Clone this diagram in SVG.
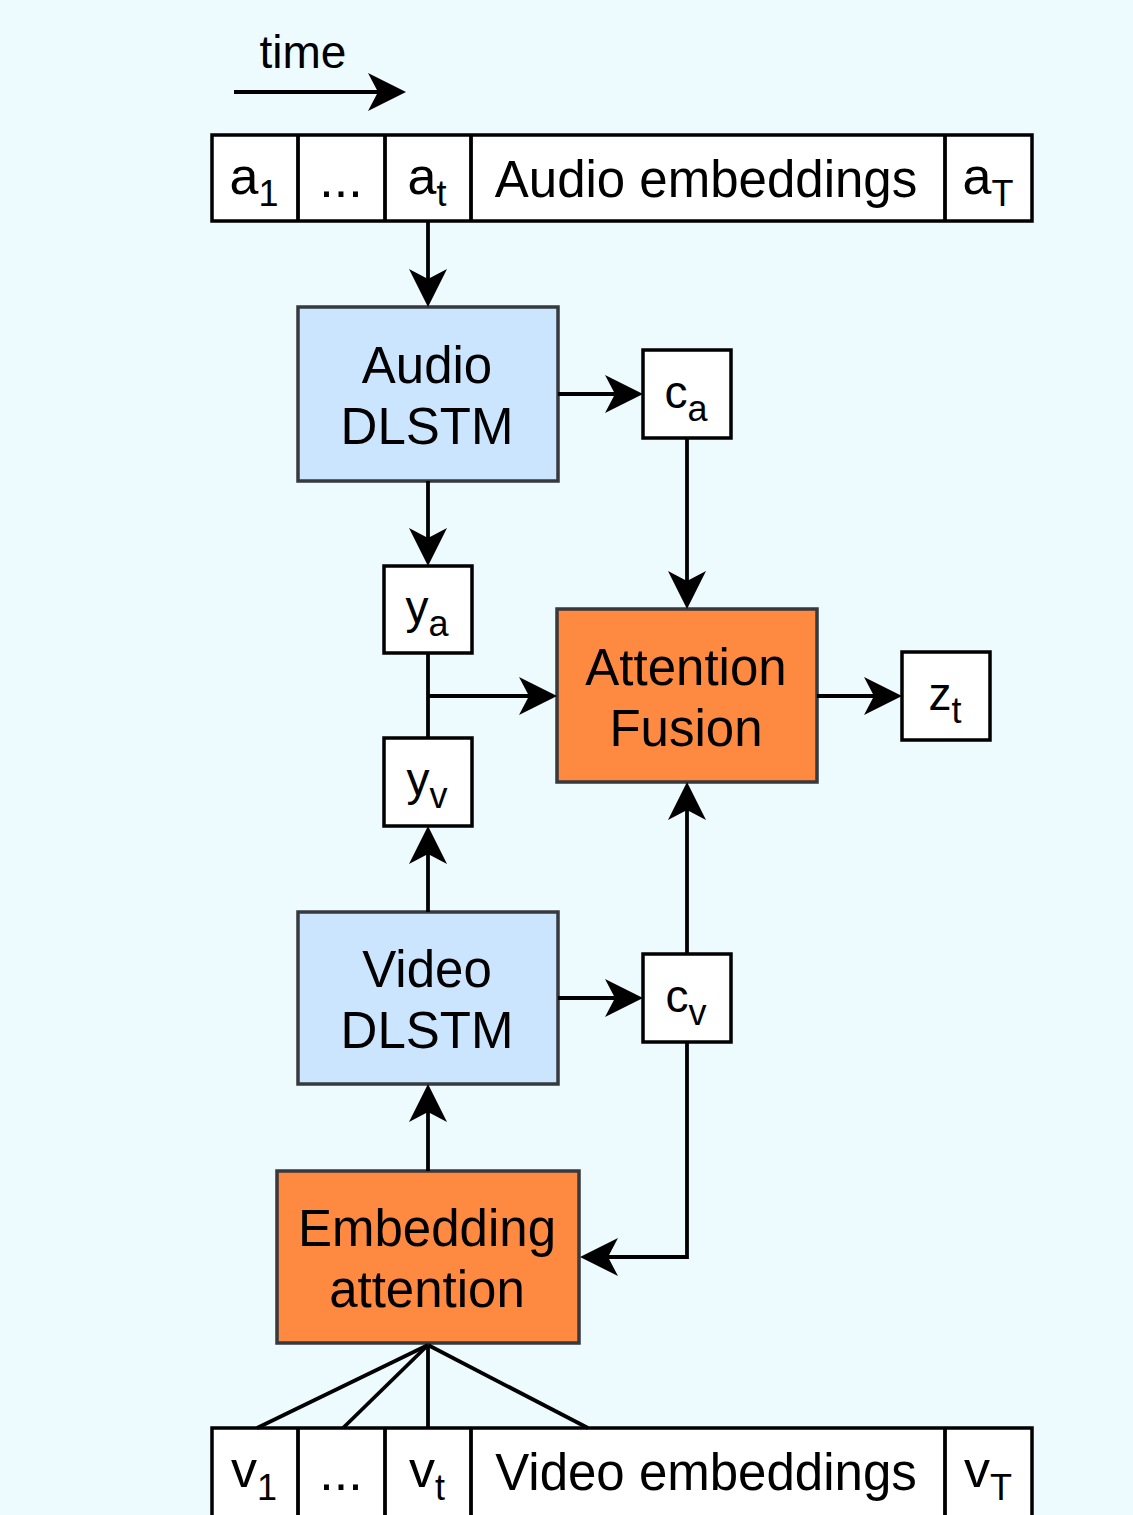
<svg xmlns="http://www.w3.org/2000/svg" width="1133" height="1515" viewBox="0 0 1133 1515">
  <style>
    text { font-family: "Liberation Sans", Arial, sans-serif; fill: #000; text-anchor: middle; }
    .cell { fill: #ffffff; stroke: #000; stroke-width: 3.5; }
    .lstm { fill: #cce5ff; stroke: #36393d; stroke-width: 3.5; }
    .att { fill: #fe8940; stroke: #36393d; stroke-width: 3.5; }
    .big { font-size: 51px; }
    .var { font-size: 46px; }
    .rowvar { font-size: 52px; }
    .sub { font-size: 36px; }
    .wire { fill: none; stroke: #000; stroke-width: 3.8; }
  </style>
  <defs>
    <!-- classic notched arrowhead; the line ends at the notch -->
    <marker id="arrow" markerUnits="userSpaceOnUse" markerWidth="40" markerHeight="40" viewBox="0 0 40 40" refX="10" refY="19" orient="auto">
      <path d="M38,19 L0,0 L10,19 L0,38 Z" fill="#000"/>
    </marker>
  </defs>

  <rect x="0" y="0" width="1133" height="1515" fill="#edfbff"/>

  <!-- time direction -->
  <g id="time">
    <text x="303" y="68" style="font-size:46px">time</text>
    <line class="wire" x1="234" y1="92" x2="378" y2="92" marker-end="url(#arrow)"/>
  </g>

  <!-- audio embedding sequence -->
  <g id="audio-embeddings">
    <rect class="cell" x="212" y="135" width="820" height="86"/>
    <line class="wire" x1="298" y1="135" x2="298" y2="221"/>
    <line class="wire" x1="385" y1="135" x2="385" y2="221"/>
    <line class="wire" x1="471" y1="135" x2="471" y2="221"/>
    <line class="wire" x1="945" y1="135" x2="945" y2="221"/>
    <text class="rowvar" x="254" y="194">a<tspan class="sub" dy="12">1</tspan></text>
    <text class="rowvar" x="341" y="197">...</text>
    <text class="rowvar" x="427" y="194">a<tspan class="sub" dy="12">t</tspan></text>
    <text class="big" x="706" y="197">Audio embeddings</text>
    <text class="rowvar" x="988" y="194">a<tspan class="sub" dy="12">T</tspan></text>
  </g>

  <g id="audio-dlstm">
    <rect class="lstm" x="298" y="307" width="260" height="174"/>
    <text class="big" x="427" y="383">Audio</text>
    <text class="big" x="427" y="444">DLSTM</text>
  </g>

  <g id="c-a">
    <rect class="cell" x="643" y="350" width="88" height="88"/>
    <text class="var" x="686" y="408">c<tspan class="sub" dy="13">a</tspan></text>
  </g>

  <g id="y-a">
    <rect class="cell" x="384" y="566" width="88" height="87"/>
    <text class="var" x="427" y="623">y<tspan class="sub" dy="13">a</tspan></text>
  </g>

  <g id="y-v">
    <rect class="cell" x="384" y="738" width="88" height="88"/>
    <text class="var" x="427" y="795">y<tspan class="sub" dy="13">v</tspan></text>
  </g>

  <g id="attention-fusion">
    <rect class="att" x="557" y="609" width="260" height="173"/>
    <text class="big" x="686" y="685">Attention</text>
    <text class="big" x="686" y="746">Fusion</text>
  </g>

  <g id="z-t">
    <rect class="cell" x="902" y="652" width="88" height="88"/>
    <text class="var" x="945" y="710">z<tspan class="sub" dy="13">t</tspan></text>
  </g>

  <g id="video-dlstm">
    <rect class="lstm" x="298" y="912" width="260" height="172"/>
    <text class="big" x="427" y="987">Video</text>
    <text class="big" x="427" y="1048">DLSTM</text>
  </g>

  <g id="c-v">
    <rect class="cell" x="643" y="954" width="88" height="88"/>
    <text class="var" x="686" y="1012">c<tspan class="sub" dy="13">v</tspan></text>
  </g>

  <g id="embedding-attention">
    <rect class="att" x="277" y="1171" width="302" height="172"/>
    <text class="big" x="427" y="1246">Embedding</text>
    <text class="big" x="427" y="1307">attention</text>
  </g>

  <!-- video embedding sequence -->
  <g id="video-embeddings">
    <rect class="cell" x="212" y="1428" width="820" height="100"/>
    <line class="wire" x1="298" y1="1428" x2="298" y2="1520"/>
    <line class="wire" x1="385" y1="1428" x2="385" y2="1520"/>
    <line class="wire" x1="471" y1="1428" x2="471" y2="1520"/>
    <line class="wire" x1="945" y1="1428" x2="945" y2="1520"/>
    <text class="rowvar" x="254" y="1487">v<tspan class="sub" dy="13">1</tspan></text>
    <text class="rowvar" x="341" y="1490">...</text>
    <text class="rowvar" x="427" y="1487">v<tspan class="sub" dy="13">t</tspan></text>
    <text class="big" x="706" y="1490">Video embeddings</text>
    <text class="rowvar" x="988" y="1487">v<tspan class="sub" dy="13">T</tspan></text>
  </g>

  <!-- connectors -->
  <g id="connectors">
    <line class="wire" x1="428" y1="221" x2="428" y2="279" marker-end="url(#arrow)"/>
    <line class="wire" x1="558" y1="394" x2="615" y2="394" marker-end="url(#arrow)"/>
    <line class="wire" x1="428" y1="481" x2="428" y2="538" marker-end="url(#arrow)"/>
    <line class="wire" x1="687" y1="438" x2="687" y2="581" marker-end="url(#arrow)"/>
    <line class="wire" x1="428" y1="653" x2="428" y2="738"/>
    <line class="wire" x1="428" y1="696" x2="529" y2="696" marker-end="url(#arrow)"/>
    <line class="wire" x1="817" y1="696" x2="874" y2="696" marker-end="url(#arrow)"/>
    <line class="wire" x1="428" y1="912" x2="428" y2="854" marker-end="url(#arrow)"/>
    <line class="wire" x1="558" y1="998" x2="615" y2="998" marker-end="url(#arrow)"/>
    <line class="wire" x1="687" y1="954" x2="687" y2="810" marker-end="url(#arrow)"/>
    <polyline class="wire" points="687,1042 687,1257 608,1257" marker-end="url(#arrow)"/>
    <line class="wire" x1="428" y1="1171" x2="428" y2="1112" marker-end="url(#arrow)"/>
    <line class="wire" x1="428" y1="1345" x2="257" y2="1428"/>
    <line class="wire" x1="428" y1="1345" x2="343" y2="1428"/>
    <line class="wire" x1="428" y1="1345" x2="428" y2="1428"/>
    <line class="wire" x1="428" y1="1345" x2="588" y2="1428"/>
  </g>
</svg>
